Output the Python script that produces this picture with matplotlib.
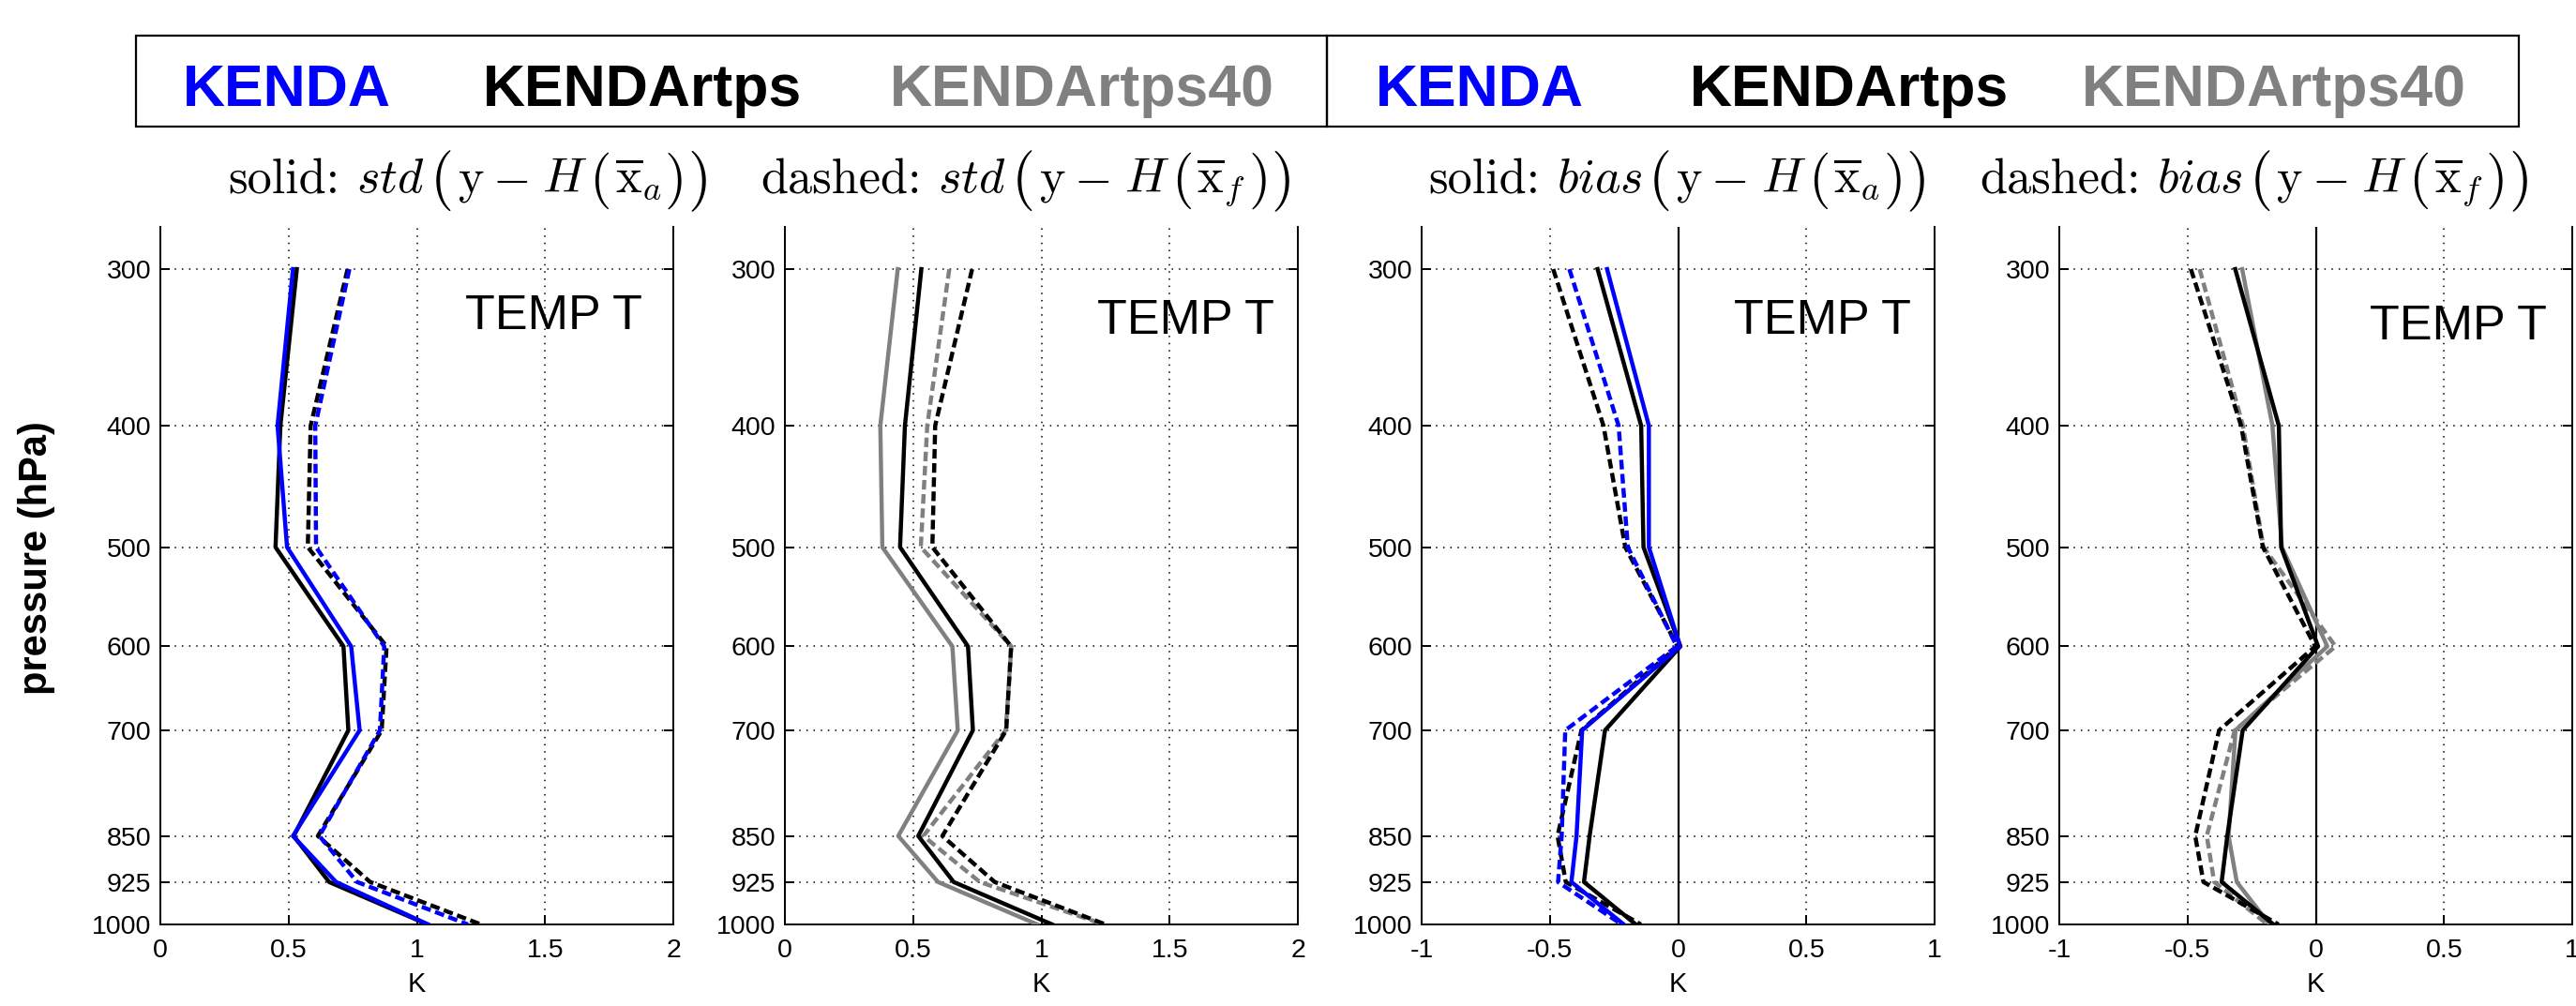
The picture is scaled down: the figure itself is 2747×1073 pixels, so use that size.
import matplotlib
matplotlib.use('Agg')
import matplotlib.pyplot as plt
from matplotlib.patches import Rectangle
from matplotlib.ticker import FixedLocator, FixedFormatter, NullLocator

plt.rcParams['font.family'] = ['Liberation Sans', 'DejaVu Sans']
plt.rcParams['mathtext.fontset'] = 'cm'
plt.rcParams['axes.unicode_minus'] = False

# ---------------- data ----------------
pressure = [300, 400, 500, 600, 700, 850, 925, 1000]
pressure_labels = ['300', '400', '500', '600', '700', '850', '925', '1000']

# std of (y - H(x_a)) [solid] and (y - H(x_f)) [dashed], K
std_ana_kenda = [0.517, 0.457, 0.494, 0.744, 0.777, 0.517, 0.685, 1.044]
std_fg_kenda = [0.737, 0.604, 0.607, 0.873, 0.856, 0.620, 0.767, 1.199]
std_ana_rtps = [0.532, 0.468, 0.449, 0.714, 0.733, 0.520, 0.658, 1.042]
std_fg_rtps = [0.730, 0.586, 0.575, 0.882, 0.863, 0.614, 0.818, 1.250]
std_ana_rtps40 = [0.440, 0.372, 0.380, 0.653, 0.674, 0.442, 0.597, 0.984]
std_fg_rtps40 = [0.641, 0.555, 0.530, 0.883, 0.861, 0.540, 0.760, 1.242]

# bias of (y - H(x_a)) [solid] and (y - H(x_f)) [dashed], K
bias_ana_kenda = [-0.277, -0.114, -0.114, 0.008, -0.374, -0.396, -0.416, -0.212]
bias_fg_kenda = [-0.424, -0.232, -0.196, -0.005, -0.440, -0.454, -0.468, -0.220]
bias_ana_rtps = [-0.314, -0.144, -0.135, 0.009, -0.285, -0.345, -0.367, -0.165]
bias_fg_rtps = [-0.487, -0.291, -0.206, -0.002, -0.377, -0.470, -0.438, -0.145]
bias_ana_rtps40 = [-0.287, -0.169, -0.132, 0.045, -0.313, -0.340, -0.308, -0.180]
bias_fg_rtps40 = [-0.453, -0.284, -0.204, 0.077, -0.316, -0.425, -0.396, -0.188]

std_xticks = [0, 0.5, 1, 1.5, 2]
std_xticklabels = ['0', '0.5', '1', '1.5', '2']
bias_xticks = [-1, -0.5, 0, 0.5, 1]
bias_xticklabels = ['-1', '-0.5', '0', '0.5', '1']

exp_names = ['KENDA', 'KENDArtps', 'KENDArtps40']
exp_colors = ['#0000ff', '#000000', '#808080']

panel_label = 'TEMP T'
x_label = 'K'
y_label = 'pressure (hPa)'

# title words: (prefix, statistic, subscript)
titles = [('solid:', 'std', 'a'), ('dashed:', 'std', 'f'),
          ('solid:', 'bias', 'a'), ('dashed:', 'bias', 'f')]

# ---------------- layout ----------------
W, H = 2747, 1073
fig = plt.figure(figsize=(W / 100, H / 100), dpi=100)


def fx(px):
    return px / W


def fy(py):
    return 1 - py / H


BLUE, BLACK, GRAY = exp_colors
DASH = (0, (2.3, 1.1))
LW = 3.2

panels = [
    dict(left=171, xlim=(0, 2), xt=std_xticks, xtl=std_xticklabels, zero=False,
         series=[(std_ana_rtps, BLACK, '-'), (std_fg_rtps, BLACK, DASH),
                 (std_ana_kenda, BLUE, '-'), (std_fg_kenda, BLUE, DASH)],
         tpos=(0.94, 0.905)),
    dict(left=837, xlim=(0, 2), xt=std_xticks, xtl=std_xticklabels, zero=False,
         series=[(std_ana_rtps40, GRAY, '-'), (std_fg_rtps40, GRAY, DASH),
                 (std_ana_rtps, BLACK, '-'), (std_fg_rtps, BLACK, DASH)],
         tpos=(0.955, 0.898)),
    dict(left=1516, xlim=(-1, 1), xt=bias_xticks, xtl=bias_xticklabels, zero=True,
         series=[(bias_ana_rtps, BLACK, '-'), (bias_fg_rtps, BLACK, DASH),
                 (bias_ana_kenda, BLUE, '-'), (bias_fg_kenda, BLUE, DASH)],
         tpos=(0.955, 0.898)),
    dict(left=2196, xlim=(-1, 1), xt=bias_xticks, xtl=bias_xticklabels, zero=True,
         series=[(bias_ana_rtps40, GRAY, '-'), (bias_fg_rtps40, GRAY, DASH),
                 (bias_ana_rtps, BLACK, '-'), (bias_fg_rtps, BLACK, DASH)],
         tpos=(0.95, 0.89)),
]

AX_W = 547
AX_TOP, AX_BOT = 242, 986

for i, p in enumerate(panels):
    ax = fig.add_axes([fx(p['left']), fy(AX_BOT), AX_W / W, (AX_BOT - AX_TOP) / H])
    ax.set_yscale('log')
    ax.set_ylim(1000, 277.6)
    ax.yaxis.set_major_locator(FixedLocator(pressure))
    ax.yaxis.set_major_formatter(FixedFormatter(pressure_labels))
    ax.yaxis.set_minor_locator(NullLocator())
    ax.set_xlim(*p['xlim'])
    ax.set_xticks(p['xt'])
    ax.set_xticklabels(p['xtl'])
    ax.spines['top'].set_visible(False)
    for s in ['left', 'right', 'bottom']:
        ax.spines[s].set_linewidth(1.4)
    ax.tick_params(axis='both', which='both', direction='in', length=7, width=1.4,
                   labelsize=20.5, right=True, top=False)
    ax.tick_params(axis='y', pad=7)
    ax.tick_params(axis='x', pad=11)
    ax.grid(True, ls=(0, (1, 4)), lw=1.1, color='k')
    ax.set_axisbelow(True)
    if p['zero']:
        ax.axvline(0, color='k', lw=1.6, zorder=1.5)
    for vals, col, ls in p['series']:
        ax.plot(vals, pressure, color=col, lw=LW, ls=ls, zorder=3)
    ax.set_xlabel(x_label, fontsize=21, labelpad=6)
    ax.text(p['tpos'][0], p['tpos'][1], panel_label, transform=ax.transAxes,
            ha='right', va='top', fontsize=37.5)

fig.text(fx(39), fy(595), y_label, rotation=90, fontsize=30, fontweight='bold',
         ha='center', va='center')

# ---------------- legend boxes ----------------
for x0, x1 in [(145, 1415), (1415, 2686)]:
    fig.add_artist(Rectangle((fx(x0), fy(135)), (x1 - x0) / W, (135 - 38) / H,
                             transform=fig.transFigure, fill=False, lw=1.6,
                             edgecolor='k'))
for xs in [(195, 515, 949), (1467, 1802, 2220)]:
    for name, col, x in zip(exp_names, exp_colors, xs):
        fig.text(fx(x), fy(113), name, color=col, fontsize=45, fontweight='bold',
                 ha='left', va='baseline')

# ---------------- titles (LaTeX-like, laid out piece by piece) ----------------
renderer = fig.canvas.get_renderer()
BASE = 205
TS = 37.6
BIG, MID = 46.5, 43.5


def draw_title(x_start, prefix, stat, sub):
    pieces = [
        (prefix, dict(family='cmr10', fontsize=TS), 0, 18),
        ('$' + stat + '$', dict(fontsize=TS), 0, 6),
        ('(', dict(family='cmr10', fontsize=BIG), 4, 4),
        (r'$\mathrm{y}$', dict(fontsize=TS), 0, 9),
        (r'$-$', dict(fontsize=TS), 0, 15),
        (r'$H$', dict(fontsize=TS), 0, 2),
        ('(', dict(family='cmr10', fontsize=MID), 3, 4),
        (r'$\overline{\mathrm{x}}_' + sub + '$', dict(fontsize=TS), 0, 3),
        (')', dict(family='cmr10', fontsize=MID), 3, 1),
        (')', dict(family='cmr10', fontsize=BIG), 4, 0),
    ]
    x = x_start
    for s, kw, dy, gap in pieces:
        t = fig.text(fx(x), fy(BASE + dy), s, ha='left', va='baseline', **kw)
        bb = t.get_window_extent(renderer)
        x = x + bb.width + gap


for (prefix, stat, sub), x in zip(titles, [243, 811, 1523, 2111]):
    draw_title(x, prefix, stat, sub)

fig.savefig('out.png', dpi=100)
